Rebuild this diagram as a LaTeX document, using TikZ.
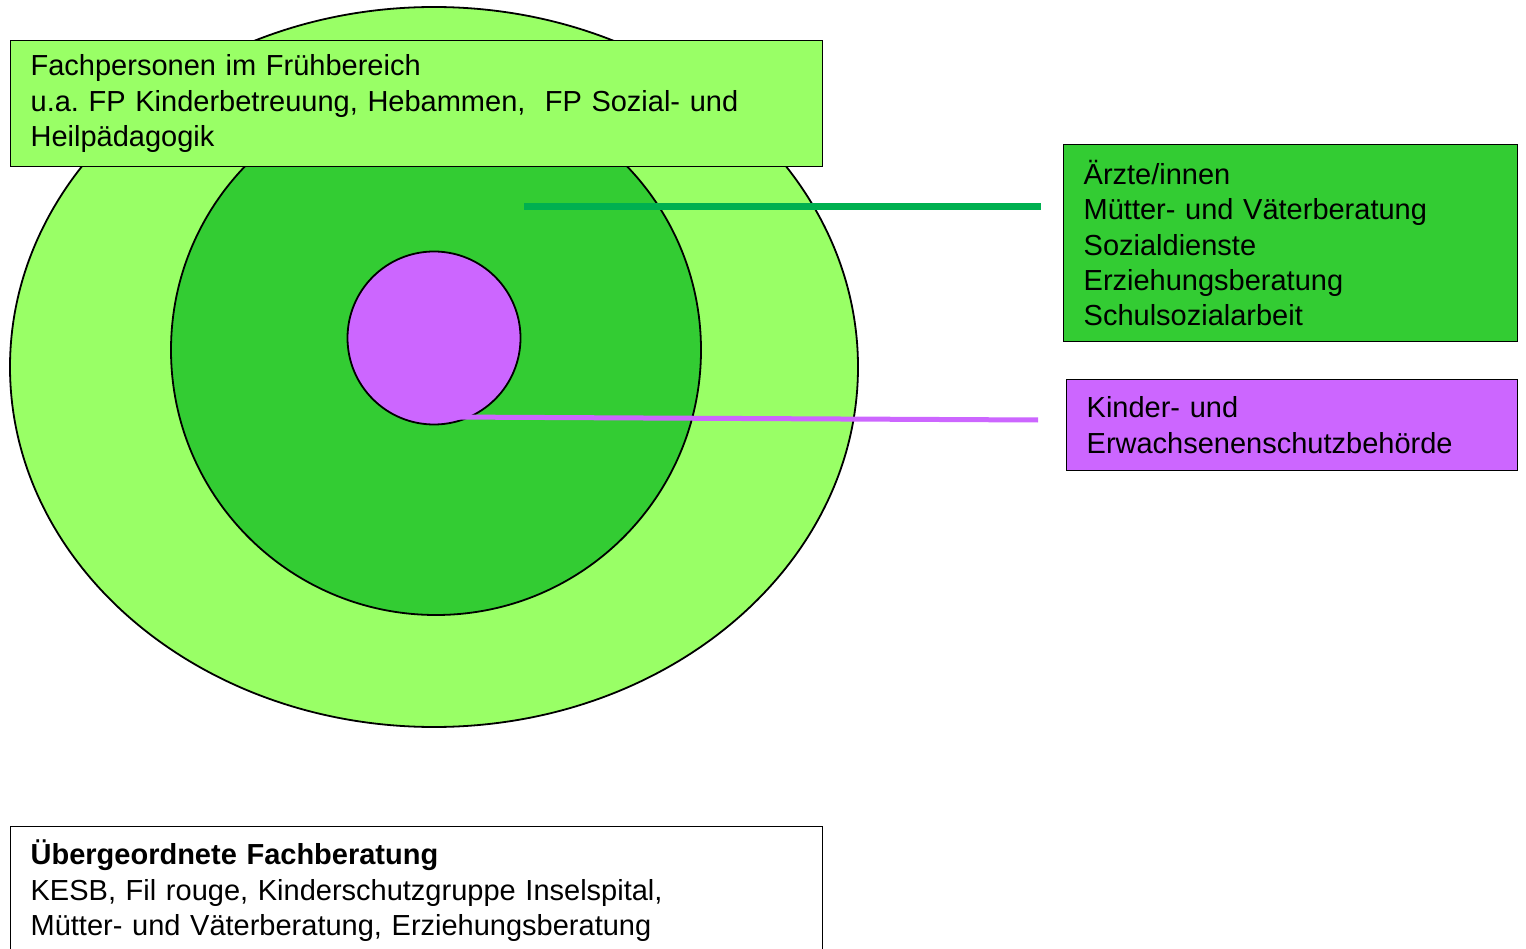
\documentclass[tikz,border=0pt]{standalone}
\usepackage{fontspec}
\setmainfont{Liberation Sans}
\frenchspacing
\definecolor{lightgrn}{HTML}{99FF66}
\definecolor{midgrn}{HTML}{33CC33}
\definecolor{lineGrn}{HTML}{00B050}
\definecolor{purp}{HTML}{CC66FF}
\tikzset{
  ring/.style={draw=black, line width=1.8pt},
  infobox/.style={draw=black, line width=1.3pt, anchor=north west, inner xsep=20pt, inner ysep=0pt, align=left,
    font=\fontsize{29}{35.3}\selectfont},
  connector/.style={line width=#1},
}
\begin{document}
\begin{tikzpicture}[x=1pt,y=-1pt]
\useasboundingbox (0,0) rectangle (1526,949);
% rings
\draw[ring, fill=lightgrn] (434,367) ellipse [x radius=424, y radius=360];
\draw[ring, fill=midgrn] (436,350) ellipse [x radius=265, y radius=265];
\draw[ring, fill=purp] (434,338) circle [radius=86.5];
\node (inner) at (434,338) {};
% connector end points
\coordinate (gA) at (524,207);
\coordinate (gB) at (1041,207);
\coordinate (pA) at (446,417);
\coordinate (pB) at (1038,420);
\draw[connector=7pt, lineGrn] (gA) -- (gB);
\draw[connector=5pt, purp] (pA) -- (pB);
% boxes
\node[infobox, fill=lightgrn, minimum width=812pt, minimum height=126pt, text width=772pt] (fach) at (10,40)
  {Fachpersonen im Frühbereich\\u.a. FP Kinderbetreuung, Hebammen, \ FP Sozial- und\\Heilpädagogik};
\node[infobox, fill=midgrn, minimum width=454pt, minimum height=197pt, text width=414pt] (aerzte) at (1063,144)
  {Ärzte/innen\\Mütter- und Väterberatung\\Sozialdienste\\Erziehungsberatung\\Schulsozialarbeit};
\node[infobox, fill=purp, minimum width=451pt, minimum height=91pt, text width=411pt] (kesb) at (1066,379)
  {Kinder- und\\Erwachsenenschutzbehörde};
\node[infobox, fill=white, minimum width=812pt, minimum height=128pt, text width=772pt] (ueber) at (10,826)
  {\textbf{Übergeordnete Fachberatung}\\KESB, Fil rouge, Kinderschutzgruppe Inselspital,\\Mütter- und Väterberatung, Erziehungsberatung};
\end{tikzpicture}
\end{document}
